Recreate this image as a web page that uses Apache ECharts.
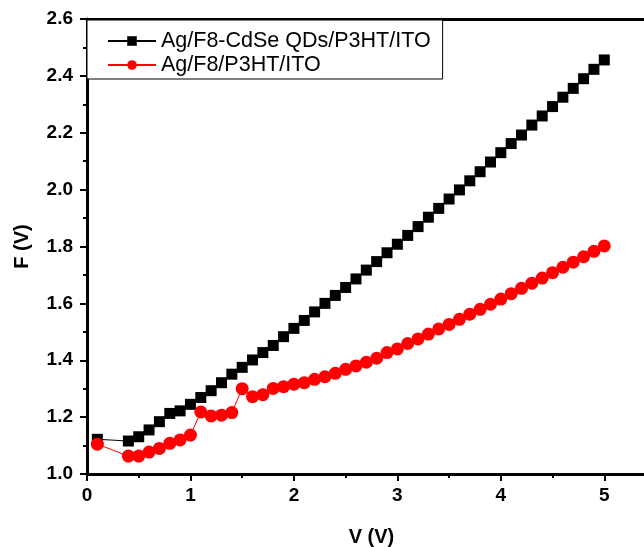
<!DOCTYPE html>
<html>
<head>
    <meta charset="utf-8">
    <title>F vs V</title>
    <script src="https://cdn.jsdelivr.net/npm/echarts@6/dist/echarts.min.js"></script>
</head>
<body style="margin:0;background:#fff;">
    <div id="main" style="width: 644px;height:547px;"></div>
    <script type="text/javascript">
        // V values (V), shared by both curves
        var volts = [0.1, 0.4, 0.5, 0.6, 0.7, 0.8, 0.9, 1.0,
            1.1, 1.2, 1.3, 1.4, 1.5, 1.6, 1.7, 1.8, 1.9, 2.0,
            2.1, 2.2, 2.3, 2.4, 2.5, 2.6, 2.7, 2.8, 2.9, 3.0,
            3.1, 3.2, 3.3, 3.4, 3.5, 3.6, 3.7, 3.8, 3.9, 4.0,
            4.1, 4.2, 4.3, 4.4, 4.5, 4.6, 4.7, 4.8, 4.9, 5.0];

        // F (V) with CdSe QDs
        var fQds = [1.122, 1.116, 1.131, 1.155, 1.184, 1.213, 1.222, 1.245,
            1.269, 1.293, 1.321, 1.351, 1.375, 1.401, 1.427, 1.452, 1.483, 1.512,
            1.540, 1.570, 1.600, 1.628, 1.656, 1.686, 1.717, 1.747, 1.778, 1.808,
            1.839, 1.870, 1.903, 1.934, 1.967, 1.999, 2.031, 2.063, 2.097, 2.130,
            2.162, 2.192, 2.227, 2.259, 2.292, 2.325, 2.356, 2.390, 2.423, 2.456];

        // F (V) without QDs
        var fPlain = [1.105, 1.063, 1.063, 1.077, 1.090, 1.108, 1.120, 1.137,
            1.218, 1.204, 1.207, 1.216, 1.300, 1.272, 1.279, 1.301, 1.307, 1.316,
            1.321, 1.333, 1.342, 1.354, 1.368, 1.380, 1.393, 1.407, 1.427, 1.440,
            1.459, 1.475, 1.492, 1.510, 1.526, 1.544, 1.562, 1.579, 1.597, 1.615,
            1.634, 1.653, 1.671, 1.689, 1.708, 1.727, 1.745, 1.764, 1.783, 1.802];

        var seriesNames = ['Ag/F8-CdSe QDs/P3HT/ITO', 'Ag/F8/P3HT/ITO'];

        function pairs(xs, ys) {
            return xs.map(function (x, i) { return [x, ys[i]]; });
        }

        var font = 'Arial, "Liberation Sans", sans-serif';
        var chart = echarts.init(document.getElementById('main'));

        chart.setOption({
            backgroundColor: '#fff',
            animation: false,
            // plot frame runs past the right edge of the picture
            grid: { left: 87, top: 19, width: 569, height: 455, outerBoundsMode: 'none' },
            legend: {
                orient: 'vertical',
                left: 87,
                top: 20,
                padding: [10, 12, 3, 20],
                itemGap: 2,
                itemWidth: 48,
                itemHeight: 12,
                borderColor: '#000',
                borderWidth: 1,
                backgroundColor: '#fff',
                textStyle: { fontFamily: font, fontSize: 21.5, color: '#000' },
                data: seriesNames
            },
            xAxis: [{
                type: 'value',
                min: 0,
                max: 5.5,
                interval: 1,
                name: 'V (V)',
                nameLocation: 'middle',
                nameGap: 53,
                nameTextStyle: { fontFamily: font, fontSize: 20, fontWeight: 'bold', color: '#000' },
                axisLine: { lineStyle: { color: '#000', width: 3 } },
                axisTick: { length: 7, lineStyle: { width: 2, color: '#000' } },
                minorTick: { show: true, splitNumber: 2, length: 4, lineStyle: { width: 2, color: '#000' } },
                axisLabel: {
                    fontFamily: font, fontSize: 19, fontWeight: 'bold', color: '#000', margin: 12,
                    showMaxLabel: false
                },
                splitLine: { show: false }
            }, {
                type: 'value',
                position: 'top',
                min: 0,
                max: 5.5,
                axisLine: { show: true, lineStyle: { color: '#000', width: 3 } },
                axisTick: { show: false },
                axisLabel: { show: false },
                splitLine: { show: false }
            }],
            yAxis: {
                type: 'value',
                min: 1.0,
                max: 2.6,
                interval: 0.2,
                name: 'F (V)',
                nameLocation: 'middle',
                nameGap: 55,
                nameTextStyle: { fontFamily: font, fontSize: 20, fontWeight: 'bold', color: '#000' },
                axisLine: { show: true, lineStyle: { color: '#000', width: 3 } },
                axisTick: { show: true, length: 7, lineStyle: { width: 2, color: '#000' } },
                minorTick: { show: true, splitNumber: 2, length: 4, lineStyle: { width: 2, color: '#000' } },
                axisLabel: {
                    fontFamily: font, fontSize: 19, fontWeight: 'bold', color: '#000', margin: 14,
                    formatter: function (v) { return v.toFixed(1); }
                },
                splitLine: { show: false }
            },
            series: [
                {
                    name: seriesNames[0],
                    type: 'line',
                    data: pairs(volts, fQds),
                    symbol: 'rect',
                    symbolSize: 11,
                    itemStyle: { color: '#000' },
                    lineStyle: { color: '#000', width: 1 }
                },
                {
                    name: seriesNames[1],
                    type: 'line',
                    data: pairs(volts, fPlain),
                    symbol: 'circle',
                    symbolSize: 13,
                    itemStyle: { color: '#ff0000' },
                    lineStyle: { color: '#ff0000', width: 1 }
                }
            ]
        });
    </script>
</body>
</html>
